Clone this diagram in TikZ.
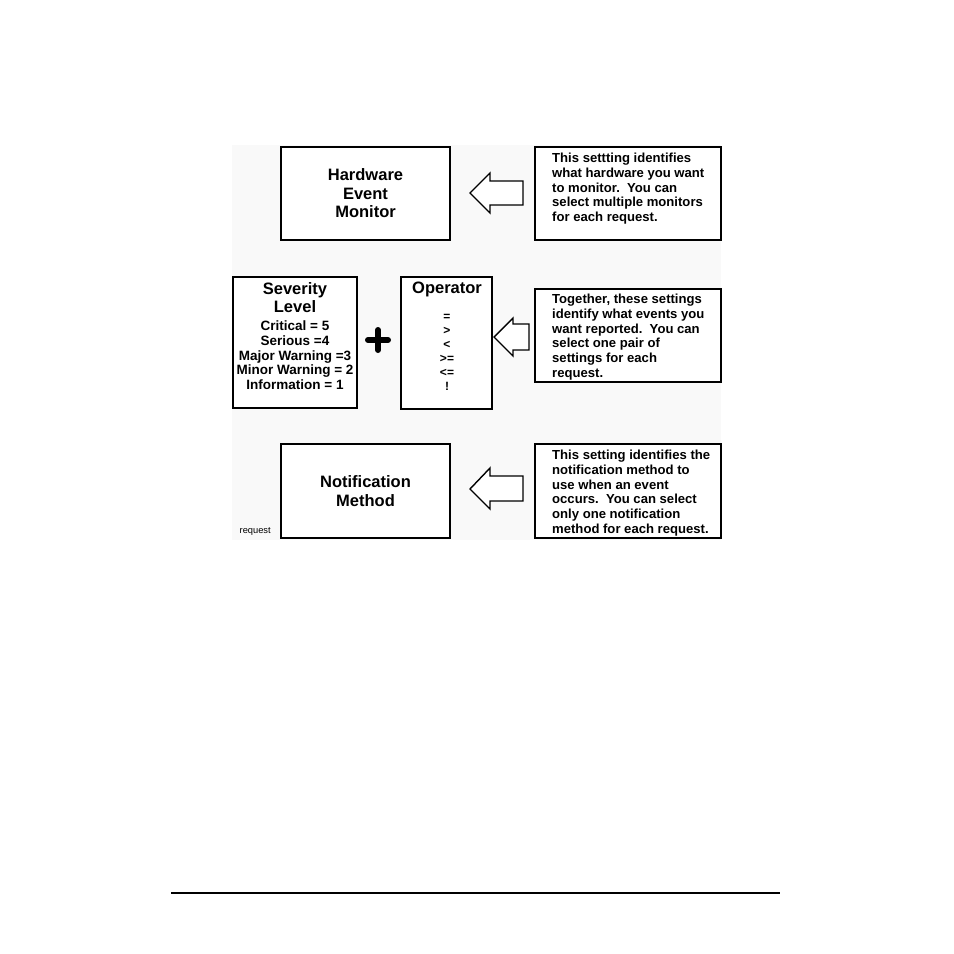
\documentclass[tikz,border=0pt]{standalone}
\usepackage{fontspec}
\setmainfont{Liberation Sans}
\begin{document}
\begin{tikzpicture}[x=1pt,y=-1pt,
  box/.style={draw=black, line width=1.8pt, fill=white, inner sep=0pt},
  title/.style={font=\fontsize{16.5}{18.5}\selectfont\bfseries, align=center, inner sep=0pt},
  desc/.style={font=\fontsize{13.1}{14.7}\selectfont\bfseries, align=left, inner sep=0pt, anchor=north west},
  blockarrow/.style={draw=black, line width=1.4pt, fill=white, line join=miter},
]
\useasboundingbox (0,0) rectangle (954,954);
\fill[black!2.5] (232,145) rectangle (721,540);

% Top row
\node[box, minimum width=169pt, minimum height=93pt] (hem) at (365.5,193.5) {};
\node[title] (hemt) at (hem.center) {Hardware\\Event\\Monitor};
\node[box, minimum width=186pt, minimum height=93pt] (d1) at (628,193.5) {};
\node[desc] (d1t) at (552,153) {This settting identifies\\what hardware you want\\to monitor.\ \ You can\\select multiple monitors\\for each request.};
\coordinate (a1) at (470,193);
\draw[blockarrow] (a1) -- ++(20,-20) -- ++(0,8) -- ++(33,0) -- ++(0,24) -- ++(-33,0) -- ++(0,8) -- cycle;

% Middle row
\node[box, minimum width=124pt, minimum height=131pt] (sev) at (295,342.5) {};
\node[title, anchor=north] (sevt) at (295,282) {Severity\\Level};
\node[font=\fontsize{13.5}{14.6}\selectfont\bfseries, align=center, inner sep=0pt, anchor=north] (sevl) at (295,321)
  {Critical = 5\\Serious =4\\Major Warning =3\\Minor Warning = 2\\Information = 1};
\coordinate (plus) at (378,340);
\draw[line width=6pt, line cap=round] ([xshift=-10pt]plus) -- ([xshift=10pt]plus) ([yshift=-10pt]plus) -- ([yshift=10pt]plus);
\node[box, minimum width=91pt, minimum height=132pt] (op) at (446.5,343) {};
\node[title, anchor=north] (opt) at (447,282) {Operator};
\node[font=\fontsize{12}{14}\selectfont\bfseries, align=center, inner sep=0pt, anchor=north] (opl) at (447,314)
  {=\\>\\<\\>=\\<=\\!};
\node[box, minimum width=186pt, minimum height=93pt] (d2) at (628,335.5) {};
\node[desc] (d2t) at (552,294) {Together, these settings\\identify what events you\\want reported.\ \ You can\\select one pair of\\settings for each\\request.};
\coordinate (a2) at (494,337);
\draw[blockarrow] (a2) -- ++(19,-19) -- ++(0,6) -- ++(16,0) -- ++(0,26) -- ++(-16,0) -- ++(0,6) -- cycle;

% Bottom row
\node[box, minimum width=169pt, minimum height=94pt] (nm) at (365.5,491) {};
\node[title] (nmt) at (nm.center) {Notification\\Method};
\node[box, minimum width=186pt, minimum height=94pt] (d3) at (628,491) {};
\node[desc] (d3t) at (552,450) {This setting identifies the\\notification method to\\use when an event\\occurs.\ \ You can select\\only one notification\\method for each request.};
\coordinate (a3) at (470,489);
\draw[blockarrow] (a3) -- ++(20,-21) -- ++(0,8) -- ++(33,0) -- ++(0,25) -- ++(-33,0) -- ++(0,8) -- cycle;
\node[font=\fontsize{9.3}{11}\selectfont, inner sep=0pt, anchor=base west] (req) at (239.5,533) {request};

% Footer rule
\coordinate (r1) at (171,893);
\coordinate (r2) at (780,893);
\draw[line width=1.1pt] (r1) -- (r2);
\end{tikzpicture}
\end{document}
